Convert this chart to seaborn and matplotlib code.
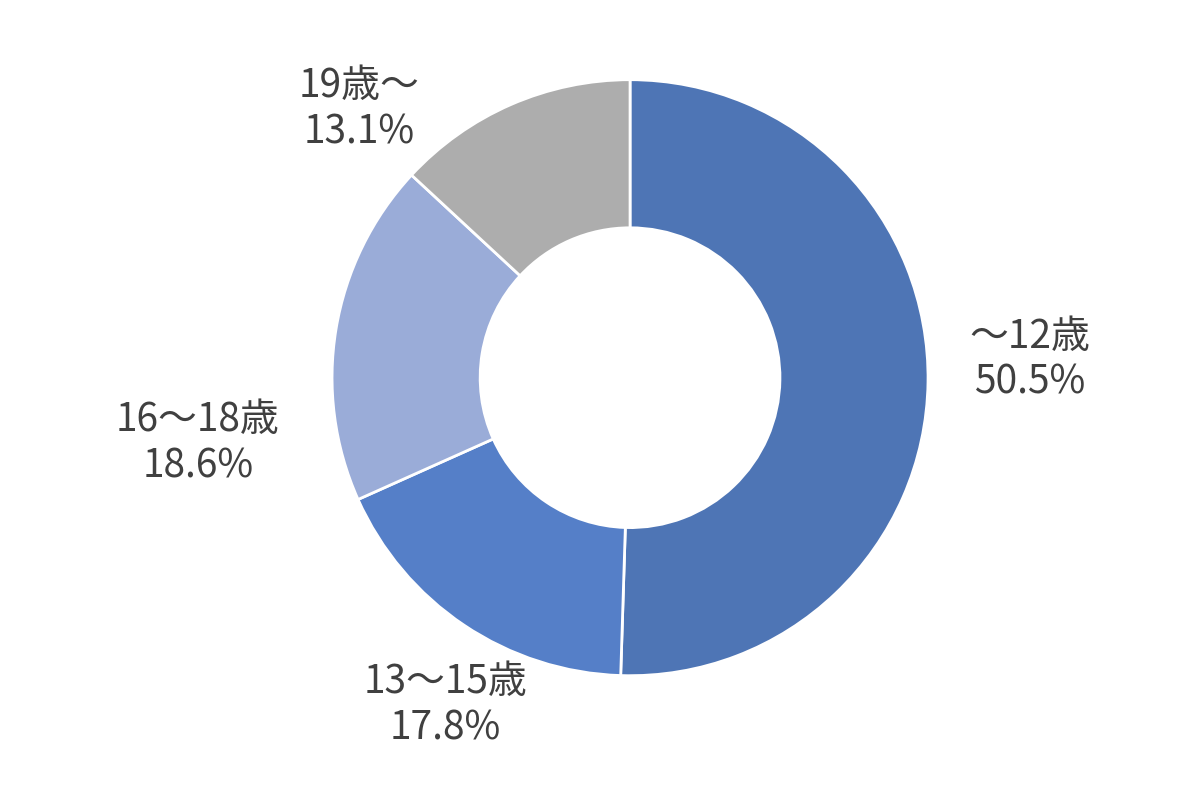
import matplotlib
matplotlib.use("Agg")
import matplotlib.pyplot as plt
import seaborn as sns

# Age groups and their shares (%)
groups = ["～12歳", "13～15歳", "16～18歳", "19歳～"]
shares = [50.5, 17.8, 18.6, 13.1]
colors = ["#4E75B5", "#557FC8", "#9AACD8", "#ADADAD"]

sns.set_theme(style="white")
plt.rcParams['font.family'] = ['Noto Sans CJK JP', 'DejaVu Sans']

fig = plt.figure(figsize=(12.01, 7.89), dpi=100)
ax = fig.add_axes([0.1276, -0.083, 0.794, 1.2086])

wedges, _ = ax.pie(shares, colors=colors, startangle=90, counterclock=False,
                   radius=1.0, wedgeprops=dict(width=0.497, edgecolor="white", linewidth=2))

# Label positions around the ring (in units of the outer radius)
label_xy = [(1.34, 0.06), (-0.62, -1.10), (-1.45, -0.22), (-0.91, 0.90)]
for name, val, (x, y) in zip(groups, shares, label_xy):
    ax.text(x, y, f"{name}\n{val:.1f}%", ha="center", va="center",
            fontsize=28, color="#404040", linespacing=1.2)

ax.set_xlim(-1.6, 1.6)
ax.set_ylim(-1.6, 1.6)
ax.set_aspect("equal")
ax.axis("off")

fig.savefig("out.png", dpi=100)
